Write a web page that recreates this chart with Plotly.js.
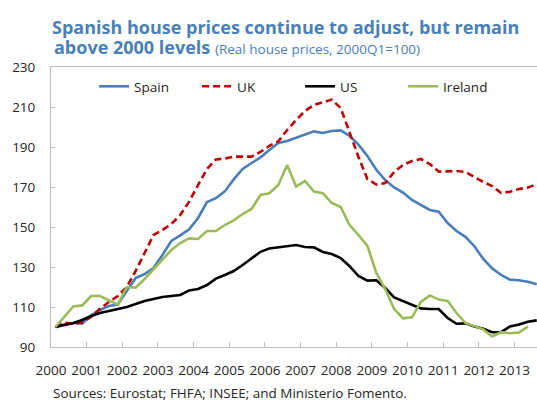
<!DOCTYPE html>
<html>
<head>
<meta charset="utf-8">
<script src="https://cdn.plot.ly/plotly-3.0.1.min.js"></script>
<style>
  html, body { margin: 0; padding: 0; background: #ffffff; }
  #chart { width: 537px; height: 402px; }
</style>
</head>
<body>
<div id="chart"></div>
<script>
// Quarterly real house prices, 2000Q1 = 100 (2000Q1 .. 2013Q3)
const startYear = 2000;
const yearLabels = ['2000','2001','2002','2003','2004','2005','2006','2007','2008','2009','2010','2011','2012','2013'];
const yTicks = [90, 110, 130, 150, 170, 190, 210, 230];

const spain = [100, 101.2, 102, 101.7, 105.8, 108.5, 110.5, 111.2, 118, 124.5, 126.5, 129.5, 136, 143, 145.8, 148.8,
  154.5, 162.5, 164.4, 167.8, 173.8, 179, 182, 184.8, 188.5, 192, 193, 194.5, 196, 197.8, 197, 198,
  198.3, 195.5, 191.2, 185.5, 178.6, 173.5, 169.8, 167.2, 163.5, 161, 158.5, 157.6, 152, 148, 145.1, 140.4,
  134, 129.3, 126, 123.7, 123.4, 122.6, 121.4];

const uk = [100, 102.2, 101.5, 102.4, 105, 109.2, 112.5, 115.5, 120, 128, 137, 146, 148.5, 151.5, 156, 162.7,
  171, 179, 183.8, 184.2, 185.2, 185.2, 185.2, 187.5, 190.6, 192.8, 198.5, 203.5, 208, 211, 212.5, 213.7,
  209.5, 197, 185, 174, 171.2, 172, 177.5, 181, 183, 184, 181.5, 177.7, 177.7, 178, 177.5, 175,
  172.5, 170.5, 167, 167.6, 169, 169.7, 171.5];

const us = [100, 101, 102, 103.5, 105.5, 107, 108, 109, 110, 111.5, 113, 114, 115, 115.5, 116, 118.3,
  119, 121, 124.2, 126, 128, 131, 134.5, 137.6, 139.3, 139.8, 140.3, 141, 140, 139.8, 137.5, 136.5,
  134.5, 130.4, 125.5, 123.2, 123.4, 119.5, 114.8, 113, 111, 109.3, 109, 109, 104.5, 101.6, 101.8, 100.2,
  99.1, 97.4, 97.4, 100.3, 101.3, 102.6, 103.3];

const ireland = [100, 105, 110.3, 110.8, 115.5, 115.5, 113.4, 111.2, 120, 119.7, 124, 129, 134, 138.5, 142, 144.3,
  144, 148, 148, 151, 153.3, 156.5, 159, 166, 166.9, 171, 181, 170.2, 173, 167.7, 166.9, 162,
  160, 151, 146, 140.6, 127, 119, 109, 104.3, 104.8, 112.5, 115.8, 113.7, 113, 107, 102, 100.3,
  98.8, 95.3, 97.4, 96.9, 97.2, 100.2];

const qx = arr => arr.map((_, i) => startYear + i / 4);

const axisGrey = '#bfbfbf';
const textColor = '#262626';
const titleColor = '#4a80b8';
const fontFam = '"Open Sans", "Noto Sans", sans-serif';

const traces = [
  { name: 'Spain', x: qx(spain), y: spain, type: 'scatter', mode: 'lines',
    line: { color: '#4a7ebb', width: 2.6 } },
  { name: 'UK', x: qx(uk), y: uk, type: 'scatter', mode: 'lines',
    line: { color: '#c00000', width: 2.6, dash: '7px,4px' } },
  { name: 'US', x: qx(us), y: us, type: 'scatter', mode: 'lines',
    line: { color: '#000000', width: 2.6 } },
  { name: 'Ireland', x: qx(ireland), y: ireland, type: 'scatter', mode: 'lines',
    line: { color: '#9bbb59', width: 2.6 } }
];

const tickPos = yearLabels.map(y => Number(y) - 0.125);

const layout = {
  width: 537, height: 402,
  margin: { l: 51, r: 0, t: 67, b: 55, pad: 0 },
  paper_bgcolor: '#ffffff', plot_bgcolor: '#ffffff',
  font: { family: fontFam, size: 13.5, color: textColor },
  showlegend: true,
  title: {
    text: '<b>Spanish house prices continue to adjust, but remain</b>',
    font: { family: fontFam, size: 18, color: titleColor },
    xref: 'container', x: 52 / 537, xanchor: 'left',
    yref: 'container', y: 1 - 28 / 402, yanchor: 'middle'
  },
  xaxis: {
    range: [1999.875, 2013.507],
    tickmode: 'array', tickvals: tickPos, ticktext: yearLabels,
    ticklabelshift: 4.45, ticklabelstandoff: 11,
    ticks: 'inside', ticklen: 5, tickwidth: 1, tickcolor: axisGrey,
    showline: true, linecolor: axisGrey, linewidth: 1, mirror: true,
    showgrid: false, zeroline: false,
    tickfont: { family: fontFam, size: 13.5, color: textColor },
    fixedrange: true
  },
  yaxis: {
    range: [90, 230],
    tickmode: 'array', tickvals: yTicks,
    ticks: 'inside', ticklen: 4, tickwidth: 1, tickcolor: axisGrey,
    showline: true, linecolor: axisGrey, linewidth: 1,
    showgrid: false, zeroline: false,
    ticklabelstandoff: 12,
    tickfont: { family: fontFam, size: 13.5, color: textColor },
    fixedrange: true
  },
  legend: {
    orientation: 'h', x: (94 - 51) / 485, xanchor: 'left', y: 1 - 4 / 279, yanchor: 'top',
    xref: 'paper', yref: 'paper',
    bgcolor: 'rgba(0,0,0,0)', borderwidth: 0,
    font: { family: fontFam, size: 13.5, color: textColor },
    itemwidth: 30, entrywidth: 58, tracegroupgap: 0
  },
  annotations: [
    {
      text: '<b>above 2000 levels</b> <span style="font-size:13.5px">(Real house prices, 2000Q1=100)</span>',
      xref: 'paper', yref: 'paper', x: 1 / 485, y: 1, yshift: 20,
      xanchor: 'left', yanchor: 'middle', showarrow: false,
      font: { family: fontFam, size: 18, color: titleColor }
    },
    {
      text: 'Sources: Eurostat; FHFA; INSEE; and Ministerio Fomento.',
      xref: 'paper', yref: 'paper', x: 1 / 485, y: 0, yshift: -45.5,
      xanchor: 'left', yanchor: 'middle', showarrow: false, borderpad: 0,
      font: { family: fontFam, size: 13.5, color: textColor }
    }
  ]
};

Plotly.newPlot('chart', traces, layout, { displayModeBar: false, staticPlot: true });
</script>
</body>
</html>
